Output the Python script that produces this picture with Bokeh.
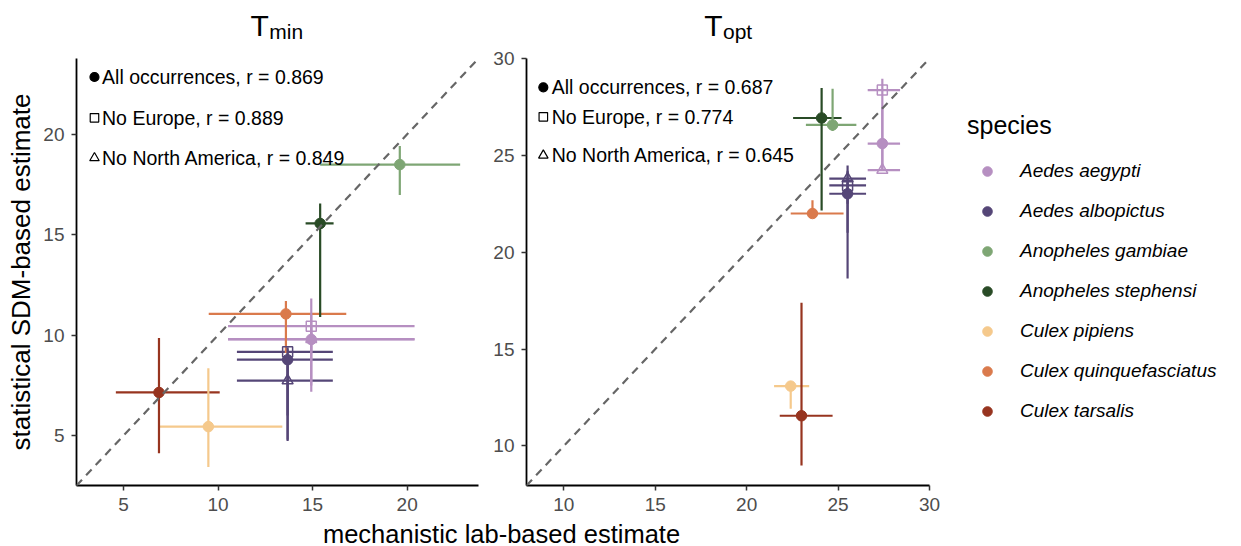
from bokeh.plotting import figure
from bokeh.models import (ColumnDataSource, FixedTicker, Slope, Label, Legend,
                          LegendItem, Range1d)
from bokeh.layouts import column, row
from bokeh.core.properties import value
from bokeh.embed import file_html
from bokeh.resources import INLINE

FONT = "Liberation Sans"

# ---------------- data ----------------
species = ["Aedes aegypti", "Aedes albopictus", "Anopheles gambiae",
           "Anopheles stephensi", "Culex pipiens", "Culex quinquefasciatus",
           "Culex tarsalis"]
colors = ["#b68fc1", "#554677", "#7ea674", "#294b26", "#f5c98c", "#da7a4c", "#97341f"]

# Tmin -- all occurrences
tmin_lab = [14.93, 13.68, 19.61, 15.40, 9.49, 13.59, 6.88]
tmin_lab_lo = [10.53, 11.00, 15.40, 14.63, 6.92, 9.51, 4.60]
tmin_lab_hi = [20.39, 16.07, 22.80, 16.11, 13.40, 16.78, 10.09]
tmin_sdm = [9.79, 8.78, 18.49, 15.56, 5.45, 11.06, 7.15]
tmin_sdm_lo = [7.19, 4.80, 16.98, 10.90, 3.44, 9.12, 4.13]
tmin_sdm_hi = [11.00, 9.30, 19.41, 16.56, 8.35, 11.70, 9.86]

# subsets (only species whose estimates change)
subset_species = ["Aedes aegypti", "Aedes albopictus"]
tmin_noeu = [10.45, 9.17]
tmin_noeu_lo = [9.20, 6.00]
tmin_noeu_hi = [11.82, 9.40]
tmin_nona = [9.80, 7.74]
tmin_nona_lo = [7.50, 4.73]
tmin_nona_hi = [10.50, 8.50]

# Topt -- all occurrences
topt_lab = [27.42, 25.52, 24.70, 24.10, 22.41, 23.60, 23.00]
topt_lab_lo = [26.62, 24.52, 23.24, 22.54, 21.50, 22.41, 21.81]
topt_lab_hi = [28.39, 26.53, 26.00, 25.19, 23.42, 25.30, 24.70]
topt_sdm = [25.61, 23.02, 26.57, 26.93, 13.09, 22.00, 11.56]
topt_sdm_lo = [24.30, 18.65, 26.26, 22.16, 11.92, 21.90, 8.99]
topt_sdm_hi = [27.50, 23.60, 28.44, 28.48, 13.09, 22.68, 17.39]

topt_noeu = [28.37, 23.45]
topt_noeu_lo = [25.50, 21.00]
topt_noeu_hi = [28.96, 24.20]
topt_nona = [24.24, 23.80]
topt_nona_lo = [24.20, 22.50]
topt_nona_hi = [25.60, 24.48]

subset_names = ["All occurrences", "No Europe", "No North America"]
tmin_r = [0.869, 0.889, 0.849]
topt_r = [0.687, 0.774, 0.645]

tmin_ticks = [5, 10, 15, 20]
topt_ticks = [10, 15, 20, 25, 30]

HEAD_H = 46
FOOT_H = 28
ROW_H = 546 - HEAD_H - FOOT_H


def sources(lab, lab_lo, lab_hi, sdm, sdm_lo, sdm_hi, noeu, noeu_lo, noeu_hi,
            nona, nona_lo, nona_hi):
    all_src = ColumnDataSource(dict(species=species, color=colors, lab=lab,
                                    lab_lo=lab_lo, lab_hi=lab_hi, sdm=sdm,
                                    sdm_lo=sdm_lo, sdm_hi=sdm_hi))
    idx = [species.index(s) for s in subset_species]

    def sub(v, lo, hi):
        return ColumnDataSource(dict(
            species=subset_species, color=[colors[i] for i in idx],
            lab=[lab[i] for i in idx], lab_lo=[lab_lo[i] for i in idx],
            lab_hi=[lab_hi[i] for i in idx], sdm=v, sdm_lo=lo, sdm_hi=hi))
    return all_src, sub(noeu, noeu_lo, noeu_hi), sub(nona, nona_lo, nona_hi)


def blank(width, height, xr=(0, 1), yr=(0, 1)):
    f = figure(width=width, height=height, min_border=0,
               x_range=Range1d(*xr), y_range=Range1d(*yr),
               x_axis_location=None, y_axis_location=None,
               output_backend="svg", toolbar_location=None, tools="")
    f.grid.visible = False
    f.outline_line_color = None
    return f


def make_panel(srcs, rng, ticks, rvals, ann_sym_x, ann_txt_x, ann_y, width,
               left, right):
    p = figure(width=width, height=ROW_H, x_range=Range1d(*rng),
               y_range=Range1d(*rng), min_border_left=left,
               min_border_right=right, min_border_top=12, min_border_bottom=33,
               output_backend="svg", toolbar_location=None, tools="")
    p.grid.visible = False
    p.outline_line_color = None
    for ax in (p.xaxis[0], p.yaxis[0]):
        ax.ticker = FixedTicker(ticks=ticks)
        ax.axis_line_color = "black"
        ax.axis_line_width = 1.8
        ax.major_tick_line_color = "#333333"
        ax.major_tick_line_width = 1.5
        ax.major_tick_out = 5
        ax.major_tick_in = 0
        ax.minor_tick_line_color = None
        ax.major_label_text_font = FONT
        ax.major_label_text_font_size = "19px"
        ax.major_label_text_color = "#4d4d4d"
    p.xaxis[0].major_label_standoff = 7
    p.yaxis[0].major_label_standoff = 7

    all_src, noeu_src, nona_src = srcs
    for s in (all_src, noeu_src, nona_src):
        p.segment(x0="lab_lo", x1="lab_hi", y0="sdm", y1="sdm", source=s,
                  line_color="color", line_width=2.2)
    for s in (all_src, noeu_src, nona_src):
        p.segment(x0="lab", x1="lab", y0="sdm_lo", y1="sdm_hi", source=s,
                  line_color="color", line_width=2.2)
    p.scatter(x="lab", y="sdm", source=all_src, marker="circle",
              size=10.5, fill_color="color", line_color="color")
    p.scatter(x="lab", y="sdm", source=noeu_src, marker="square", size=10,
              fill_color=None, line_color="color", line_width=1.5)
    p.scatter(x="lab", y="sdm", source=nona_src, marker="triangle", size=11,
              fill_color=None, line_color="color", line_width=1.5)

    p.add_layout(Slope(gradient=1, y_intercept=0, line_color="#666666",
                       line_width=2.2, line_dash="8 6"))

    # annotation of subsets
    markers = ["circle", "square", "triangle"]
    fills = ["black", None, None]
    sizes = [9, 8.5, 9.5]
    for k in range(3):
        p.scatter(x=[ann_sym_x], y=[ann_y[k]], marker=markers[k], size=sizes[k],
                  fill_color=fills[k], line_color="black", line_width=1.2)
    p.text(x=[ann_txt_x] * 3, y=ann_y,
           text=[f"{n}, r = {r:.3f}" for n, r in zip(subset_names, rvals)],
           text_font=value(FONT), text_font_size="19.5px", text_color="black",
           text_align="left", text_baseline="middle")
    return p


tmin_srcs = sources(tmin_lab, tmin_lab_lo, tmin_lab_hi, tmin_sdm, tmin_sdm_lo,
                    tmin_sdm_hi, tmin_noeu, tmin_noeu_lo, tmin_noeu_hi,
                    tmin_nona, tmin_nona_lo, tmin_nona_hi)
topt_srcs = sources(topt_lab, topt_lab_lo, topt_lab_hi, topt_sdm, topt_sdm_lo,
                    topt_sdm_hi, topt_noeu, topt_noeu_lo, topt_noeu_hi,
                    topt_nona, topt_nona_lo, topt_nona_hi)

p1 = make_panel(tmin_srcs, (2.52, 23.77), tmin_ticks, tmin_r, 3.47, 3.87,
                [22.85, 20.82, 18.82], 490, 76, 12)
p1.yaxis[0].axis_label = "statistical SDM-based estimate"
p1.yaxis[0].axis_label_text_font = FONT
p1.yaxis[0].axis_label_text_font_size = "26px"
p1.yaxis[0].axis_label_text_font_style = "normal"
p1.yaxis[0].axis_label_text_color = "black"
p1.yaxis[0].axis_label_standoff = 4

p2 = make_panel(topt_srcs, (7.96, 30.0), topt_ticks, topt_r, 8.88, 9.34,
                [28.51, 26.99, 25.0], 451, 36, 12)

# ---------------- legend panel ----------------
p3 = blank(1241 - 490 - 451, ROW_H)
r_leg = p3.scatter(x="lab", y="sdm", source=topt_srcs[0], marker="circle",
                   fill_color="color", line_color="color")
legend = Legend(
    items=[LegendItem(label=sp, renderers=[r_leg], index=i)
           for i, sp in enumerate(species)],
    title="species", title_text_font=FONT, title_text_font_size="25px",
    title_text_font_style="normal", title_text_color="black", title_standoff=19,
    label_text_font=FONT, label_text_font_size="19px",
    label_text_font_style="italic", label_text_color="black",
    label_standoff=13, glyph_width=40, glyph_height=24, spacing=16,
    padding=10, margin=0, border_line_color=None, background_fill_alpha=0,
    location=(26, 62))
p3.add_layout(legend)

# ---------------- header (panel titles) ----------------
head = blank(1241, HEAD_H, (0, 1241), (0, HEAD_H))
for tx, sub in ((268.3, "min"), (722.0, "opt")):
    head.add_layout(Label(x=tx, y=21, x_units="screen", y_units="screen",
                          text="T", text_font=FONT, text_font_size="30px",
                          text_align="right", text_baseline="alphabetic",
                          text_color="black"))
    head.add_layout(Label(x=tx + 0.5, y=15, x_units="screen", y_units="screen",
                          text=sub, text_font=FONT, text_font_size="21px",
                          text_align="left", text_baseline="alphabetic",
                          text_color="black"))

# ---------------- footer (shared x-axis title) ----------------
foot = blank(1241, FOOT_H, (0, 1241), (0, FOOT_H))
foot.add_layout(Label(x=501, y=13, x_units="screen", y_units="screen",
                      text="mechanistic lab-based estimate", text_font=FONT,
                      text_font_size="25.5px", text_align="center",
                      text_baseline="alphabetic", text_color="black"))

layout = column(head, row(p1, p2, p3, spacing=0), foot, spacing=0)
open("out.html", "w").write(file_html(layout, INLINE))
